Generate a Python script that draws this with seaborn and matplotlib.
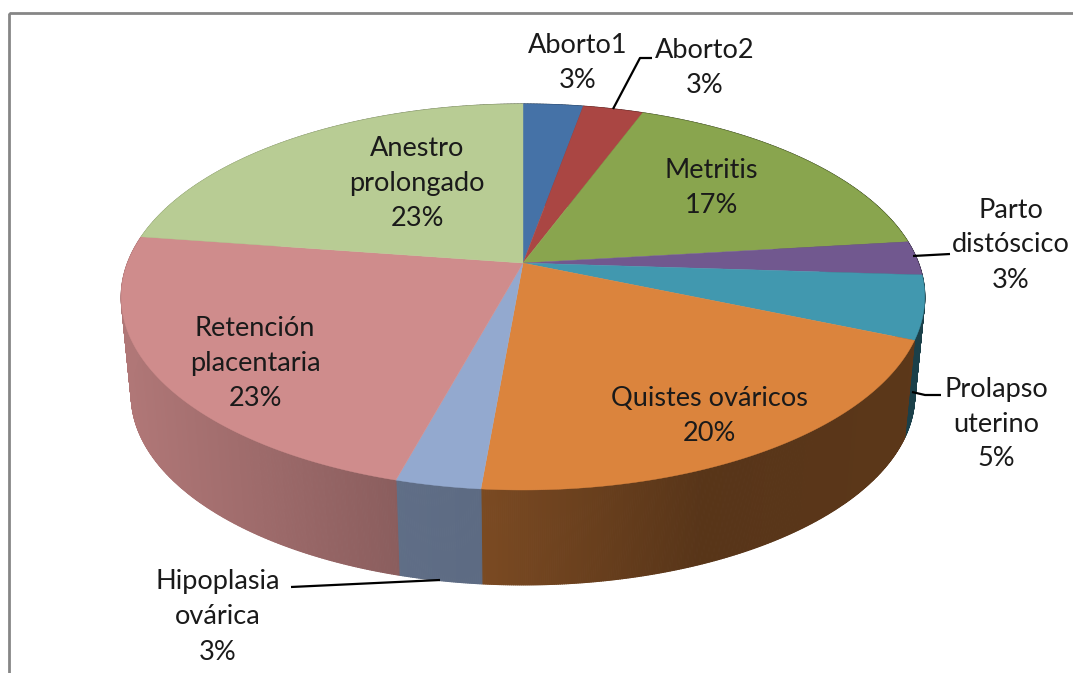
import numpy as np
import matplotlib
matplotlib.use("Agg")
import matplotlib.pyplot as plt
from matplotlib.collections import PolyCollection
from matplotlib.patches import Rectangle
import seaborn as sns

categories = ["Aborto1", "Aborto2", "Metritis", "Parto\ndistóscico", "Prolapso\nuterino",
              "Quistes ováricos", "Hipoplasia\novárica", "Retención\nplacentaria", "Anestro\nprolongado"]
values = [2.86, 2.87, 17.42, 2.85, 5.3, 20.1, 2.9, 23.0, 22.7]
hex_colors = ["#4572A7", "#AA4643", "#89A54E", "#71588F", "#4198AF",
              "#DB843D", "#93A9CF", "#CF8C8C", "#B8CC94"]

sns.set_theme(style="white")
plt.rcParams["font.family"] = ["Lato", "DejaVu Sans"]
colors = sns.color_palette(hex_colors)

W, H = 1073, 673
fig = plt.figure(figsize=(W / 100, H / 100), dpi=100, facecolor="white")
ax = fig.add_axes([0, 0, 1, 1])
ax.set_xlim(0, W)
ax.set_ylim(H, 0)
ax.axis("off")

# projective view of the pie disc
CX, CY, A, B, K = 523.0, 297.0, 395.5, 193.0, 0.176
C = B * K


def top_rim(theta):
    u, v = np.sin(theta), np.cos(theta)
    d = 1 + K * v
    return CX + A * u / d, CY - (B * v + C) / d


def bottom_rim(theta):
    x, y = top_rim(theta)
    return CX + 0.975 * (x - CX), CY + 98 - 0.984 * (CY - y)


def shade(x):
    return np.interp(x, [120, 398, 399, 481, 482, 700, 925],
                     [0.86, 0.67, 0.65, 0.63, 0.56, 0.40, 0.42])


frac = np.asarray(values) / np.sum(values)
edges = np.concatenate([[0], np.cumsum(frac)]) * 2 * np.pi

# side wall
polys, cols = [], []
for i, col in enumerate(colors):
    th = np.linspace(edges[i], edges[i + 1], max(3, int(frac[i] * 1500)))
    tx, ty = top_rim(th)
    bx, by = bottom_rim(th)
    for j in range(len(th) - 1):
        polys.append([(tx[j], ty[j]), (tx[j + 1], ty[j + 1]), (bx[j + 1], by[j + 1]), (bx[j], by[j])])
        f = shade((bx[j] + bx[j + 1]) / 2)
        cols.append(tuple(np.array(col) * f))
ax.add_collection(PolyCollection(polys, facecolors=cols, edgecolors=cols, linewidths=0.8, zorder=2))

# top face
apex = (CX, CY - C)
for i, col in enumerate(colors):
    th = np.linspace(edges[i], edges[i + 1], 120)
    x, y = top_rim(th)
    ax.fill(np.r_[apex[0], x], np.r_[apex[1], y], color=col, lw=0.3, zorder=3)

# labels: centre of each block in figure pixels
label_pos = [(578, 63), (705, 68), (711, 188), (1011, 245), (996, 424),
             (709, 416), (218, 617), (255, 364), (417, 183)]
for cat, v, (px, py) in zip(categories, values, label_pos):
    ax.text(px, py, f"{cat}\n{v:.0f}%", ha="center", va="center", ma="center",
            fontsize=19.5, color="#1a1a1a", linespacing=1.5, zorder=5, clip_on=False)

# leader lines
leaders = [([613, 640, 652], [109, 58, 58]),
           ([913, 950], [256, 254]),
           ([912, 925, 941], [392, 395, 395]),
           ([291, 440], [587, 580])]
for lx, ly in leaders:
    ax.plot(lx, ly, color="black", lw=1.6, zorder=4, solid_capstyle="butt")

# chart frame
ax.add_patch(Rectangle((9, 13), W + 50, H + 50, fill=False, edgecolor="#868686", lw=2, zorder=6, clip_on=True))

fig.savefig("out.png", dpi=100, facecolor="white")
